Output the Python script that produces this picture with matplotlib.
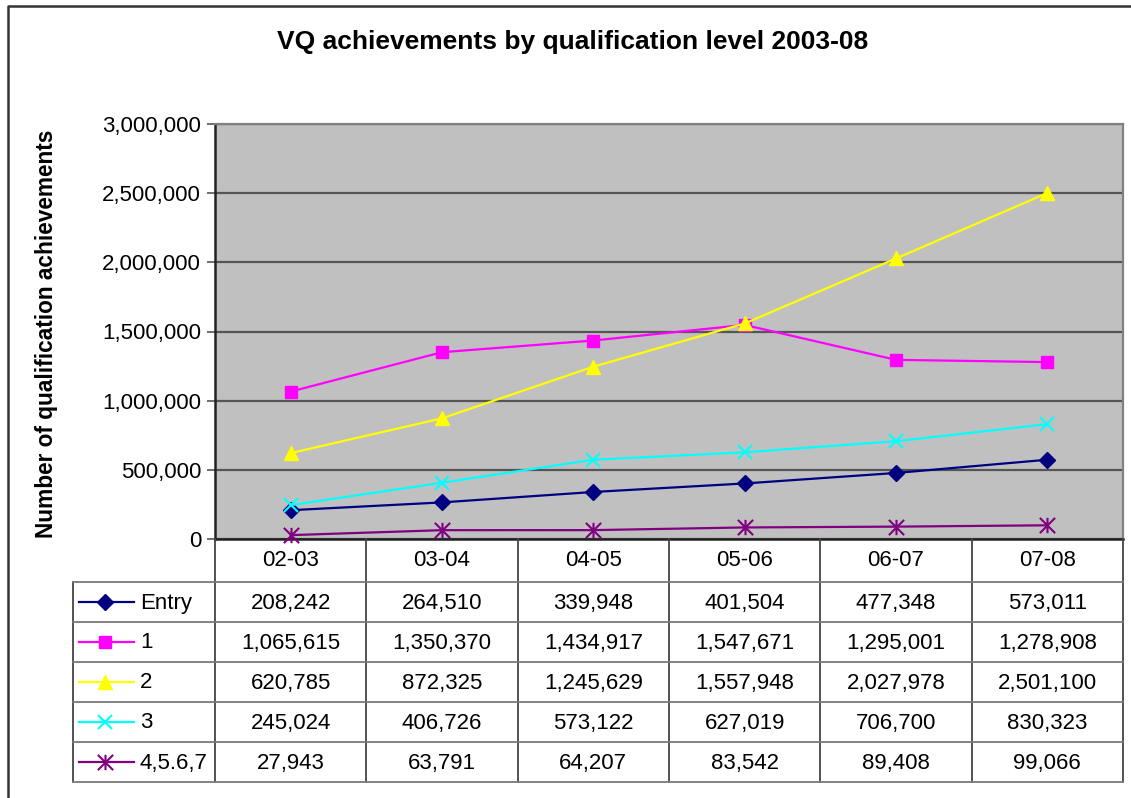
import matplotlib
matplotlib.use("Agg")
import matplotlib.pyplot as plt
from matplotlib.path import Path
import numpy as np

plt.rcParams['font.family'] = ['Liberation Sans', 'DejaVu Sans']

categories = ["02-03", "03-04", "04-05", "05-06", "06-07", "07-08"]
series_names = ["Entry", "1", "2", "3", "4,5.6,7"]
entry = [208242, 264510, 339948, 401504, 477348, 573011]
level1 = [1065615, 1350370, 1434917, 1547671, 1295001, 1278908]
level2 = [620785, 872325, 1245629, 1557948, 2027978, 2501100]
level3 = [245024, 406726, 573122, 627019, 706700, 830323]
level4567 = [27943, 63791, 64207, 83542, 89408, 99066]
yticks = [0, 500000, 1000000, 1500000, 2000000, 2500000, 3000000]

series = [entry, level1, level2, level3, level4567]

star = Path([(0, -1), (0, 1), (-1, -1), (1, 1), (-1, 1), (1, -1)],
            [Path.MOVETO, Path.LINETO, Path.MOVETO, Path.LINETO, Path.MOVETO, Path.LINETO])

styles = [
    dict(color="#000080", marker="D", ms=8, mfc="#000080", mec="#000080"),
    dict(color="#FF00FF", marker="s", ms=8, mfc="#FF00FF", mec="#FF00FF"),
    dict(color="#FFFF00", marker="^", ms=10, mfc="#FFFF00", mec="#FFFF00"),
    dict(color="#00FFFF", marker="x", ms=10, mew=1.5, mfc="#00FFFF", mec="#00FFFF"),
    dict(color="#800080", marker=star, ms=11, mew=1.5, mfc="#800080", mec="#800080"),
]

W, H = 1131, 798
fig = plt.figure(figsize=(W / 100, H / 100), dpi=100)
fig.patch.set_facecolor("white")

L, R, T, B = 215, 1123, 124, 539
FS = 16
ax = fig.add_axes([L / W, 1 - B / H, (R - L) / W, (B - T) / H])
ax.set_facecolor("#C0C0C0")
x = np.arange(len(categories))
for vals, st in zip(series, styles):
    ax.plot(x, vals, lw=1.6, clip_on=False, zorder=3, **st)

ax.set_xlim(-0.5, len(categories) - 0.5)
ax.set_ylim(0, 3000000)
ax.set_yticks(yticks)
ax.set_yticklabels([f"{v:,}" for v in yticks], fontsize=FS)
ax.set_xticks([])
ax.grid(axis="y", color="#555555", lw=1.6, zorder=1)
ax.set_axisbelow(True)
ax.tick_params(axis="y", length=6, width=1.2, color="#555555", pad=4)
for s in ["top", "right"]:
    ax.spines[s].set_color("#808080")
    ax.spines[s].set_linewidth(1.6)
ax.spines["left"].set_color("#222222")
ax.spines["left"].set_linewidth(1.8)
ax.spines["bottom"].set_color("#222222")
ax.spines["bottom"].set_linewidth(1.8)

fig.text(47 / W, 1 - 334 / H, "Number of qualification achievements", rotation=90,
         ha="center", va="center", fontsize=16.3, fontweight="bold")
fig.text(573 / W, 1 - 42 / H, "VQ achievements by qualification level 2003-08",
         ha="center", va="center", fontsize=19, fontweight="bold")

# overlay for table and border (pixel coordinates)
ov = fig.add_axes([0, 0, 1, 1])
ov.set_xlim(0, W)
ov.set_ylim(H, 0)
ov.axis("off")
ov.patch.set_visible(False)

# chart border
ov.plot([8, 8, W + 5], [H + 5, 6, 6], color="#333333", lw=1.8, clip_on=False)

ncol = len(categories)
colw = (R - L) / ncol
edges = [L + i * colw for i in range(ncol + 1)]
row_top = 582
rowh = 40
nrow = len(series)
tab_left = 73
tab_bottom = row_top + nrow * rowh
lc = "#7a7a7a"
for e in edges:
    ov.plot([e, e], [B, tab_bottom], color="#444444", lw=1.3)
ov.plot([tab_left, tab_left], [row_top, tab_bottom], color="#444444", lw=1.3)
for r in range(nrow + 1):
    y = row_top + r * rowh
    ov.plot([tab_left, R], [y, y], color=lc, lw=1.3)

for i, c in enumerate(categories):
    ov.text((edges[i] + edges[i + 1]) / 2, 561, c, ha="center", va="center", fontsize=FS)

for r, (name, vals, st) in enumerate(zip(series_names, series, styles)):
    yc = row_top + r * rowh + rowh / 2
    ov.plot([79, 134], [yc, yc], lw=1.6, color=st["color"])
    ov.plot([105], [yc], lw=0, **st)
    ov.text(140, yc + 1, name, ha="left", va="center", fontsize=FS)
    for i, v in enumerate(vals):
        ov.text((edges[i] + edges[i + 1]) / 2, yc + 1, f"{v:,}", ha="center", va="center", fontsize=FS)

fig.savefig("out.png", dpi=100)
